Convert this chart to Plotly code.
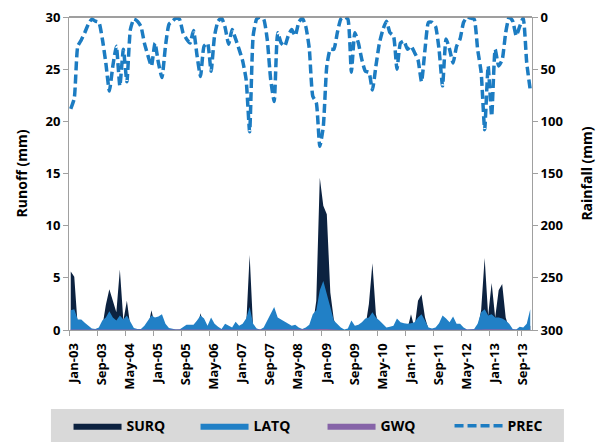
import plotly.graph_objects as go

month_abbr = ["Jan", "Feb", "Mar", "Apr", "May", "Jun", "Jul", "Aug", "Sep", "Oct", "Nov", "Dec"]
years = ["03", "04", "05", "06", "07", "08", "09", "10", "11", "12", "13"]
months = [f"{m}-{y}" for y in years for m in month_abbr]

# Rainfall (mm), monthly Jan-03 .. Dec-13
prec = [88, 78, 28, 22, 15, 7, 2, 4, 5, 21, 44, 71,
        47, 28, 66, 31, 62, 12, 2, 4, 9, 25, 37, 47,
        25, 44, 58, 28, 7, 4, 1, 2, 15, 21, 25, 13,
        37, 57, 28, 25, 52, 18, 4, 1, 10, 26, 12, 21,
        31, 42, 60, 110, 18, 2, 0, 2, 21, 60, 81, 15,
        25, 28, 18, 12, 18, 5, 1, 9, 30, 76, 82, 124,
        105, 47, 31, 31, 15, 2, 0, 2, 53, 15, 25, 41,
        52, 53, 70, 47, 25, 12, 4, 15, 18, 50, 25, 23,
        31, 28, 34, 41, 62, 31, 5, 5, 9, 31, 66, 21,
        31, 44, 28, 21, 5, 0, 1, 2, 31, 53, 108, 47,
        95, 31, 47, 41, 15, 0, 4, 18, 9, 1, 44, 70]

# Surface runoff (mm)
surq = [5.6, 5.1, 0.3, 0.2, 0.1, 0.05, 0.0, 0.0, 0.05, 0.3, 2.4, 3.9,
        2.7, 1.7, 5.8, 0.9, 2.8, 0.3, 0.0, 0.0, 0.0, 0.05, 0.2, 1.9,
        0.4, 0.4, 0.5, 0.1, 0.0, 0.0, 0.0, 0.0, 0.0, 0.05, 0.1, 0.1,
        0.2, 1.6, 0.3, 0.05, 0.3, 0.1, 0.0, 0.0, 0.1, 0.05, 0.0, 0.2,
        0.05, 0.1, 0.3, 7.2, 0.1, 0.0, 0.0, 0.0, 0.2, 0.4, 0.5, 0.2,
        0.2, 0.1, 0.1, 0.05, 0.1, 0.0, 0.0, 0.0, 0.1, 0.4, 2.8, 14.6,
        11.9, 11.1, 3.6, 1.0, 0.1, 0.0, 0.0, 0.0, 0.2, 0.05, 0.1, 0.2,
        0.3, 2.5, 6.4, 1.5, 0.2, 0.1, 0.0, 0.05, 0.1, 0.2, 0.1, 0.1,
        0.1, 1.5, 0.2, 2.8, 3.4, 1.2, 0.05, 0.0, 0.0, 0.1, 0.3, 0.2,
        0.1, 0.3, 0.1, 0.1, 0.0, 0.0, 0.0, 0.0, 0.1, 1.9, 6.9, 1.4,
        4.5, 1.2, 3.8, 4.4, 1.2, 0.1, 0.0, 0.0, 0.05, 0.05, 0.1, 0.4]

# Lateral flow (mm)
latq = [1.9, 2.0, 1.0, 1.0, 0.7, 0.4, 0.15, 0.1, 0.25, 0.9, 1.2, 1.8,
        1.2, 0.9, 1.4, 1.0, 1.4, 0.8, 0.2, 0.1, 0.1, 0.4, 0.9, 1.4,
        1.2, 1.3, 1.5, 0.6, 0.2, 0.1, 0.05, 0.05, 0.25, 0.5, 0.5, 0.5,
        0.9, 1.4, 1.1, 0.4, 1.2, 0.6, 0.3, 0.1, 0.6, 0.4, 0.25, 0.8,
        0.4, 0.6, 1.1, 2.2, 0.6, 0.15, 0.05, 0.25, 0.9, 1.7, 2.2, 1.2,
        1.0, 0.8, 0.6, 0.4, 0.5, 0.25, 0.1, 0.25, 0.5, 1.5, 1.9, 3.8,
        4.7, 3.3, 2.2, 0.9, 0.6, 0.25, 0.05, 0.15, 0.9, 0.4, 0.5, 0.75,
        1.1, 1.2, 1.7, 1.2, 0.9, 0.6, 0.25, 0.3, 0.4, 1.1, 0.75, 0.65,
        0.6, 0.65, 0.75, 1.2, 1.5, 0.9, 0.25, 0.15, 0.25, 0.65, 1.4, 1.1,
        0.75, 1.3, 0.6, 0.6, 0.25, 0.05, 0.05, 0.1, 0.6, 1.7, 2.0, 1.4,
        1.5, 1.2, 1.2, 1.1, 0.9, 0.6, 0.1, 0.05, 0.3, 0.25, 0.6, 2.0]

# Groundwater flow (mm)
gwq = [0.05, 0.05, 0.04, 0.03, 0.02, 0.01, 0.0, 0.0, 0.0, 0.01, 0.03, 0.05,
       0.05, 0.04, 0.05, 0.04, 0.04, 0.02, 0.0, 0.0, 0.0, 0.0, 0.02, 0.04,
       0.04, 0.04, 0.04, 0.02, 0.0, 0.0, 0.0, 0.0, 0.0, 0.0, 0.01, 0.01,
       0.02, 0.04, 0.03, 0.01, 0.03, 0.01, 0.0, 0.0, 0.01, 0.01, 0.0, 0.02,
       0.01, 0.02, 0.03, 0.06, 0.02, 0.0, 0.0, 0.0, 0.02, 0.04, 0.05, 0.03,
       0.03, 0.02, 0.01, 0.0, 0.01, 0.0, 0.0, 0.0, 0.01, 0.04, 0.06, 0.10,
       0.12, 0.10, 0.07, 0.03, 0.01, 0.0, 0.0, 0.0, 0.02, 0.01, 0.01, 0.02,
       0.03, 0.04, 0.06, 0.04, 0.02, 0.01, 0.0, 0.0, 0.01, 0.03, 0.02, 0.02,
       0.01, 0.02, 0.02, 0.04, 0.05, 0.03, 0.0, 0.0, 0.0, 0.02, 0.04, 0.03,
       0.02, 0.03, 0.01, 0.01, 0.0, 0.0, 0.0, 0.0, 0.02, 0.05, 0.08, 0.06,
       0.07, 0.05, 0.06, 0.06, 0.04, 0.02, 0.0, 0.0, 0.0, 0.0, 0.01, 0.05]

tick_labels = ["Jan-03", "Sep-03", "May-04", "Jan-05", "Sep-05", "May-06", "Jan-07", "Sep-07",
               "May-08", "Jan-09", "Sep-09", "May-10", "Jan-11", "Sep-11", "May-12", "Jan-13", "Sep-13"]

C_SURQ = "#0c2240"
C_LATQ = "#2180c6"
C_GWQ = "#8664a8"
C_PREC = "#1c7cc2"
FONT = "Open Sans"

fig = go.Figure()
fig.add_trace(go.Scatter(x=months, y=surq, name="SURQ", mode="lines", fill="tozeroy",
                         line=dict(width=0, color=C_SURQ), fillcolor=C_SURQ))
fig.add_trace(go.Scatter(x=months, y=latq, name="LATQ", mode="lines", fill="tozeroy",
                         line=dict(width=0, color=C_LATQ), fillcolor=C_LATQ))
fig.add_trace(go.Scatter(x=months, y=gwq, name="GWQ", mode="lines", fill="tozeroy",
                         line=dict(width=0, color=C_GWQ), fillcolor=C_GWQ))
fig.add_trace(go.Scatter(x=months, y=prec, name="PREC", mode="lines", yaxis="y2",
                         line=dict(width=3.5, color=C_PREC, dash="9px,4px", shape="spline", smoothing=0.5)))

axis_font = dict(family=FONT, size=13, color="#000000", weight="bold")
title_font = dict(family=FONT, size=14, color="#000000", weight="bold")

fig.update_layout(
    width=603, height=442,
    margin=dict(l=69, r=71, t=17, b=112, autoexpand=False),
    paper_bgcolor="white", plot_bgcolor="white",
    font=dict(family=FONT, size=13, color="#000000"),
    showlegend=True,
    legend=dict(orientation="h", x=-0.001, xanchor="left", y=-0.256, yanchor="top",
                bgcolor="rgba(0,0,0,0)", font=dict(family=FONT, size=14, color="#000000", weight="bold"),
                entrywidth=64, entrywidthmode="pixels", itemwidth=48, traceorder="normal"),
    xaxis=dict(type="category", range=[-0.5, 131.5], tickmode="array",
               tickvals=tick_labels, ticktext=tick_labels, tickson="boundaries",
               ticks="outside", ticklen=5, tickcolor="#a0a0a0", tickangle=-90,
               showline=True, linecolor="#a0a0a0", linewidth=1, showgrid=False, zeroline=False,
               tickfont=axis_font, ticklabelshift=3, ticklabelstandoff=7, automargin=False),
    yaxis=dict(range=[0, 30], dtick=5, ticks="outside", ticklen=5, tickcolor="#a0a0a0",
               showline=True, linecolor="#a0a0a0", linewidth=1, showgrid=False, zeroline=False,
               tickfont=axis_font, automargin=False,
               title=dict(text="Runoff (mm)", font=title_font, standoff=14)),
    yaxis2=dict(overlaying="y", side="right", range=[300, 0], dtick=50, ticks="outside", ticklen=5,
                tickcolor="#a0a0a0", showline=True, linecolor="#a0a0a0", linewidth=1,
                showgrid=False, zeroline=False, tickfont=axis_font, automargin=False,
                title=dict(text="Rainfall (mm)", font=title_font, standoff=20)),
    shapes=[
        dict(type="line", xref="paper", yref="paper", x0=0, x1=1, y0=1, y1=1,
             line=dict(color="#7f7f7f", width=1.5)),
        # legend background band
        dict(type="rect", xref="paper", yref="paper", x0=-0.039, x1=1.069, y0=-0.2524, y1=-0.36,
             fillcolor="#d9d9d9", line=dict(width=0), layer="below"),
    ],
)

fig.write_html("out.html", config={"displayModeBar": False},
               post_script="document.body.style.margin='0';document.body.style.overflow='hidden';")
